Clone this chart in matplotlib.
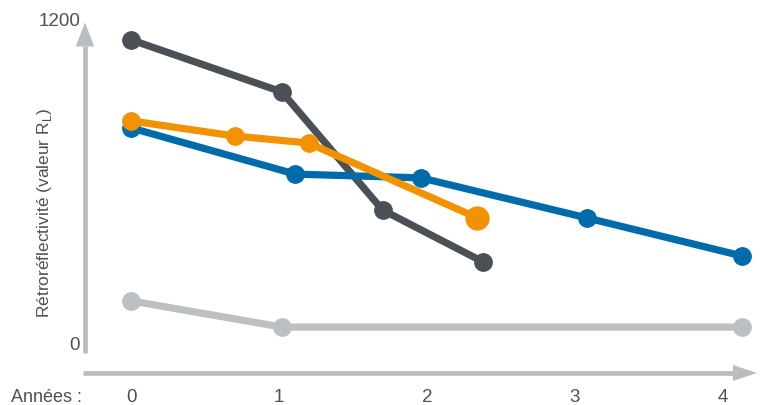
import matplotlib.pyplot as plt

plt.rcParams['font.family'] = ['Liberation Sans', 'DejaVu Sans']
plt.rcParams['mathtext.fontset'] = 'custom'
plt.rcParams['mathtext.rm'] = 'Liberation Sans'

# series (years, retroreflectivity)
dark_x = [0, 1.02, 1.70, 2.38]
dark_y = [1133, 940, 503, 311]
orange_x = [0, 0.70, 1.20, 2.34]
orange_y = [833, 777, 751, 474]
blue_x = [0, 1.11, 1.96, 3.08, 4.13]
blue_y = [807, 636, 622, 474, 333]
light_x = [0, 1.02, 4.13]
light_y = [167, 70, 70]

year_ticks = [0, 1, 2, 3, 4]
y_ticks = [0, 1200]

DARK = '#4a5055'
ORANGE = '#f39200'
BLUE = '#006bab'
LIGHT = '#bcc0c2'
AXIS = '#b9bdc0'
TEXT = '#505050'

fig = plt.figure(figsize=(7.66, 4.05), dpi=100)
ax = fig.add_axes([0, 0, 1, 1])
# pixel mapping: year 0 -> x=131, 148 px / year; value 0 -> y=346, 3.7 units / px
px = 1 / 148
py = 3.7
ax.set_xlim(-131 * px, (766 - 131) * px)
ax.set_ylim(-(405 - 346) * py, 346 * py)
ax.axis('off')

lw = 5.2
ms = 12.5
ax.plot(light_x, light_y, color=LIGHT, lw=lw, marker='o', ms=ms, zorder=2)
ax.plot(dark_x, dark_y, color=DARK, lw=lw, marker='o', ms=ms, zorder=3)
ax.plot(blue_x, blue_y, color=BLUE, lw=lw, marker='o', ms=ms, zorder=3)
ax.plot(orange_x, orange_y, color=ORANGE, lw=lw, marker='o', ms=ms, zorder=4)
ax.plot(orange_x[-1], orange_y[-1], color=ORANGE, marker='o', ms=16.5, zorder=4)

# vertical axis arrow
ax_x = (85 - 131) * px
ax.plot([ax_x, ax_x], [-7 * py, (346 - 46) * py], color=AXIS, lw=3.4, solid_capstyle='butt')
ax.fill([ax_x - 9.3 * px, ax_x + 9.3 * px, ax_x],
        [(346 - 46.5) * py, (346 - 46.5) * py, (346 - 22.5) * py], color=AXIS, lw=0)

# horizontal axis arrow
hy = -(373 - 346) * py
ax.plot([(83 - 131) * px, (734 - 131) * px], [hy, hy], color=AXIS, lw=3.4, solid_capstyle='butt')
ax.fill([(733 - 131) * px, (733 - 131) * px, (757 - 131) * px],
        [hy + 8 * py, hy - 8 * py, hy], color=AXIS, lw=0)

# tick labels
for t in y_ticks:
    ax.text((80 - 131) * px, t, str(t), ha='right', va='center', fontsize=13.5, color=TEXT)
for t in year_ticks:
    ax.text(t, -(398 - 346) * py, str(t), ha='center', va='center', fontsize=13.5, color=TEXT)
ax.text((82 - 131) * px, -(398 - 346) * py, 'Années :', ha='right', va='center',
        fontsize=13, color=TEXT)

ax.text((45 - 131) * px, (346 - 213) * py, r'Rétroréflectivité (valeur R$_\mathrm{L}$)',
        rotation=90, ha='center', va='center', fontsize=12.5, color=TEXT)

fig.savefig('out.png', dpi=100)
